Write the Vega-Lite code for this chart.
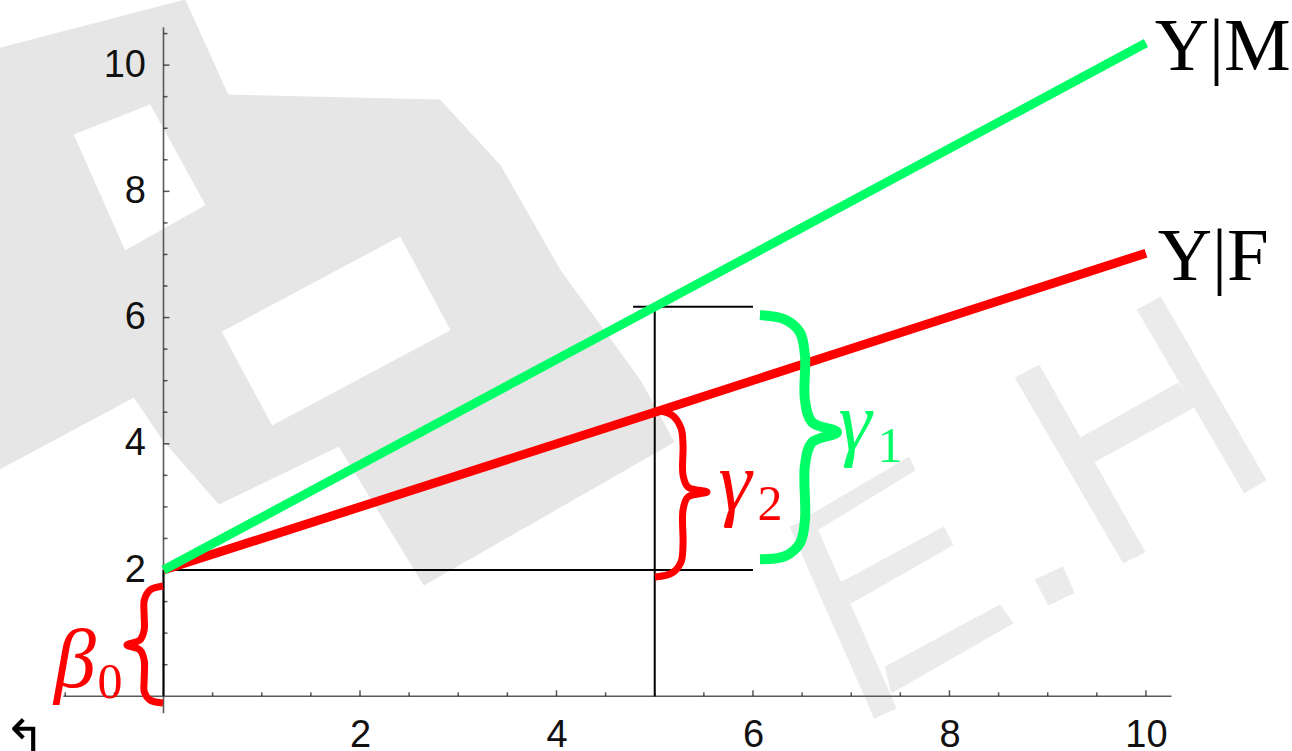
{
  "$schema": "https://vega.github.io/schema/vega-lite/v6.json",
  "width": 1008,
  "height": 669,
  "autosize": "none",
  "padding": {"left": 163.5, "top": 27.25, "right": 120.5, "bottom": 54.75},
  "background": "white",
  "config": {"view": {"stroke": null}},
  "datasets": {
    "backdrop": [
      {"s": "B", "i": 1, "x": -1.664, "y": 10.269}, {"s": "B", "i": 2, "x": 0.219, "y": 11.03},
      {"s": "B", "i": 3, "x": 0.656, "y": 9.525}, {"s": "B", "i": 4, "x": 2.814, "y": 9.446},
      {"s": "B", "i": 5, "x": 3.425, "y": 8.416}, {"s": "B", "i": 6, "x": 4.036, "y": 6.753},
      {"s": "B", "i": 7, "x": 4.85, "y": 5.01}, {"s": "B", "i": 8, "x": 5.196, "y": 4.028},
      {"s": "B", "i": 9, "x": 2.651, "y": 1.763}, {"s": "B", "i": 10, "x": 1.786, "y": 3.964},
      {"s": "B", "i": 11, "x": 0.565, "y": 3.046}, {"s": "B", "i": 12, "x": -0.005, "y": 4.059},
      {"s": "B", "i": 13, "x": -0.3, "y": 4.74}, {"s": "B", "i": 14, "x": -1.664, "y": 3.604}
    ],
    "holes": [
      {"s": "W1", "i": 1, "x": -0.911, "y": 8.894}, {"s": "W1", "i": 2, "x": -0.137, "y": 9.369},
      {"s": "W1", "i": 3, "x": 0.422, "y": 7.784}, {"s": "W1", "i": 4, "x": -0.392, "y": 7.071},
      {"s": "W2", "i": 1, "x": 0.595, "y": 5.77}, {"s": "W2", "i": 2, "x": 2.407, "y": 7.275},
      {"s": "W2", "i": 3, "x": 2.916, "y": 5.802}, {"s": "W2", "i": 4, "x": 1.104, "y": 4.297}
    ],
    "watermark": [
      {"s": "E1", "i": 1, "x": 6.376, "y": 2.679}, {"s": "E1", "i": 2, "x": 6.6, "y": 2.837},
      {"s": "E1", "i": 3, "x": 7.456, "y": -0.19}, {"s": "E1", "i": 4, "x": 7.232, "y": -0.349},
      {"s": "E2", "i": 1, "x": 6.549, "y": 2.837}, {"s": "E2", "i": 2, "x": 7.588, "y": 3.787},
      {"s": "E2", "i": 3, "x": 7.649, "y": 3.581}, {"s": "E2", "i": 4, "x": 6.6, "y": 2.583},
      {"s": "E3", "i": 1, "x": 6.886, "y": 1.794}, {"s": "E3", "i": 2, "x": 7.944, "y": 2.681},
      {"s": "E3", "i": 3, "x": 8.035, "y": 2.397}, {"s": "E3", "i": 4, "x": 6.998, "y": 1.477},
      {"s": "E4", "i": 1, "x": 7.344, "y": 0.463}, {"s": "E4", "i": 2, "x": 8.514, "y": 1.445},
      {"s": "E4", "i": 3, "x": 8.646, "y": 1.16}, {"s": "E4", "i": 4, "x": 7.405, "y": 0.051},
      {"s": "D", "i": 1, "x": 8.87, "y": 1.842}, {"s": "D", "i": 2, "x": 9.155, "y": 2.048},
      {"s": "D", "i": 3, "x": 9.267, "y": 1.636}, {"s": "D", "i": 4, "x": 9.003, "y": 1.446},
      {"s": "H1", "i": 1, "x": 8.667, "y": 5.041}, {"s": "H1", "i": 2, "x": 8.912, "y": 5.247},
      {"s": "H1", "i": 3, "x": 9.99, "y": 2.285}, {"s": "H1", "i": 4, "x": 9.766, "y": 2.111},
      {"s": "H2", "i": 1, "x": 9.908, "y": 6.119}, {"s": "H2", "i": 2, "x": 10.148, "y": 6.325},
      {"s": "H2", "i": 3, "x": 11.221, "y": 3.426}, {"s": "H2", "i": 4, "x": 10.997, "y": 3.22},
      {"s": "H3", "i": 1, "x": 9.298, "y": 4.059}, {"s": "H3", "i": 2, "x": 10.326, "y": 4.962},
      {"s": "H3", "i": 3, "x": 10.489, "y": 4.582}, {"s": "H3", "i": 4, "x": 9.471, "y": 3.711}
    ],
    "axes": [
      {"x": -1.02, "x2": 10.26, "y": 0, "y2": 0},
      {"x": 0, "x2": 0, "y": -0.27, "y2": 10.6}
    ],
    "xticks": [
      {"v": -1}, {"v": -0.5}, {"v": 0.5}, {"v": 1}, {"v": 1.5}, {"v": 2}, {"v": 2.5}, {"v": 3}, {"v": 3.5}, {"v": 4},
      {"v": 4.5}, {"v": 5}, {"v": 5.5}, {"v": 6}, {"v": 6.5}, {"v": 7}, {"v": 7.5}, {"v": 8}, {"v": 8.5}, {"v": 9},
      {"v": 9.5}, {"v": 10}
    ],
    "yticks": [
      {"v": 0.5}, {"v": 1}, {"v": 1.5}, {"v": 2}, {"v": 2.5}, {"v": 3}, {"v": 3.5}, {"v": 4}, {"v": 4.5}, {"v": 5},
      {"v": 5.5}, {"v": 6}, {"v": 6.5}, {"v": 7}, {"v": 7.5}, {"v": 8}, {"v": 8.5}, {"v": 9}, {"v": 9.5}, {"v": 10},
      {"v": 10.5}
    ],
    "guides": [
      {"x": 0, "x2": 6, "y": 2, "y2": 2},
      {"x": 5, "x2": 5, "y": 0, "y2": 6.17},
      {"x": 4.78, "x2": 6, "y": 6.17, "y2": 6.17},
      {"x": 0, "x2": 0, "y": 0, "y2": 2}
    ],
    "lines": [
      {"g": "F", "x": 0, "y": 2},
      {"g": "F", "x": 5, "y": 4.5},
      {"g": "F", "x": 10, "y": 7.02},
      {"g": "M", "x": 0, "y": 2},
      {"g": "M", "x": 5, "y": 6.17},
      {"g": "M", "x": 10, "y": 10.35}
    ],
    "braces": [
      {"b": "b0", "g": "F", "i": 1, "x": -0.005, "y": 1.747},
      {"b": "b0", "g": "F", "i": 2, "x": -0.137, "y": 1.683},
      {"b": "b0", "g": "F", "i": 3, "x": -0.195, "y": 1.525},
      {"b": "b0", "g": "F", "i": 4, "x": -0.197, "y": 1.287},
      {"b": "b0", "g": "F", "i": 5, "x": -0.197, "y": 1.05},
      {"b": "b0", "g": "F", "i": 6, "x": -0.24, "y": 0.891},
      {"b": "b0", "g": "F", "i": 7, "x": -0.372, "y": 0.812},
      {"b": "b0", "g": "F", "i": 8, "x": -0.24, "y": 0.733},
      {"b": "b0", "g": "F", "i": 9, "x": -0.197, "y": 0.574},
      {"b": "b0", "g": "F", "i": 10, "x": -0.197, "y": 0.257},
      {"b": "b0", "g": "F", "i": 11, "x": -0.195, "y": 0.067},
      {"b": "b0", "g": "F", "i": 12, "x": -0.137, "y": -0.059},
      {"b": "b0", "g": "F", "i": 13, "x": -0.005, "y": -0.107},
      {"b": "g2", "g": "F", "i": 1, "x": 5.003, "y": 4.532},
      {"b": "g2", "g": "F", "i": 2, "x": 5.176, "y": 4.455},
      {"b": "g2", "g": "F", "i": 3, "x": 5.267, "y": 4.249},
      {"b": "g2", "g": "F", "i": 4, "x": 5.288, "y": 3.98},
      {"b": "g2", "g": "F", "i": 5, "x": 5.288, "y": 3.505},
      {"b": "g2", "g": "F", "i": 6, "x": 5.338, "y": 3.315},
      {"b": "g2", "g": "F", "i": 7, "x": 5.532, "y": 3.236},
      {"b": "g2", "g": "F", "i": 8, "x": 5.338, "y": 3.157},
      {"b": "g2", "g": "F", "i": 9, "x": 5.288, "y": 2.951},
      {"b": "g2", "g": "F", "i": 10, "x": 5.288, "y": 2.396},
      {"b": "g2", "g": "F", "i": 11, "x": 5.267, "y": 2.127},
      {"b": "g2", "g": "F", "i": 12, "x": 5.176, "y": 1.953},
      {"b": "g2", "g": "F", "i": 13, "x": 5.003, "y": 1.89},
      {"b": "g1", "g": "M", "i": 1, "x": 6.071, "y": 6.04},
      {"b": "g1", "g": "M", "i": 2, "x": 6.326, "y": 5.97},
      {"b": "g1", "g": "M", "i": 3, "x": 6.478, "y": 5.766},
      {"b": "g1", "g": "M", "i": 4, "x": 6.529, "y": 5.402},
      {"b": "g1", "g": "M", "i": 5, "x": 6.529, "y": 4.689},
      {"b": "g1", "g": "M", "i": 6, "x": 6.601, "y": 4.341},
      {"b": "g1", "g": "M", "i": 7, "x": 6.855, "y": 4.182},
      {"b": "g1", "g": "M", "i": 8, "x": 6.601, "y": 4.024},
      {"b": "g1", "g": "M", "i": 9, "x": 6.529, "y": 3.659},
      {"b": "g1", "g": "M", "i": 10, "x": 6.529, "y": 2.788},
      {"b": "g1", "g": "M", "i": 11, "x": 6.478, "y": 2.424},
      {"b": "g1", "g": "M", "i": 12, "x": 6.326, "y": 2.22},
      {"b": "g1", "g": "M", "i": 13, "x": 6.071, "y": 2.17}
    ],
    "greek": [
      {"t": "β", "g": "F", "x": -0.901, "y": 0.15},
      {"t": "γ", "g": "F", "x": 5.817, "y": 2.95},
      {"t": "γ", "g": "M", "x": 7.038, "y": 3.901}
    ],
    "subscripts": [
      {"t": "0", "g": "F", "x": -0.545, "y": -0.028},
      {"t": "2", "g": "F", "x": 6.173, "y": 2.792},
      {"t": "1", "g": "M", "x": 7.394, "y": 3.711}
    ],
    "names": [
      {"t": "Y|M", "x": 10.09, "y": 9.92},
      {"t": "Y|F", "x": 10.12, "y": 6.59}
    ],
    "corner": [
      {"t": "↰", "x": -1.41, "y": -0.93}
    ]
  },
  "layer": [
    {
      "data": {"name": "backdrop"},
      "mark": {"type": "line", "fill": "#e6e6e6", "stroke": "#e6e6e6", "strokeWidth": 1},
      "encoding": {
        "x": {"field": "x", "type": "quantitative", "scale": {"domain": [0, 10.26], "nice": false, "zero": false}},
        "y": {"field": "y", "type": "quantitative", "scale": {"domain": [0, 10.6], "nice": false, "zero": false}},
        "detail": {"field": "s"},
        "order": {"field": "i", "type": "quantitative"}
      }
    },
    {
      "data": {"name": "holes"},
      "mark": {"type": "line", "fill": "white", "stroke": "white", "strokeWidth": 1},
      "encoding": {
        "x": {"field": "x", "type": "quantitative"},
        "y": {"field": "y", "type": "quantitative"},
        "detail": {"field": "s"},
        "order": {"field": "i", "type": "quantitative"}
      }
    },
    {
      "data": {"name": "watermark"},
      "mark": {"type": "line", "fill": "#ebebeb", "stroke": "#ebebeb", "strokeWidth": 1},
      "encoding": {
        "x": {"field": "x", "type": "quantitative"},
        "y": {"field": "y", "type": "quantitative"},
        "detail": {"field": "s"},
        "order": {"field": "i", "type": "quantitative"}
      }
    },
    {
      "data": {"name": "axes"},
      "mark": {"type": "rule", "color": "#5a5a5a", "strokeWidth": 1.6},
      "encoding": {
        "x": {
          "field": "x", "type": "quantitative",
          "axis": {
            "values": [2, 4, 6, 8, 10], "format": "d", "zindex": 1,
            "domain": false, "grid": false, "ticks": false, "tickSize": 0, "title": null,
            "labelFont": "Liberation Sans", "labelFontSize": 38, "labelColor": "#111111",
            "labelPadding": 20, "labelBaseline": "top", "labelOverlap": false, "labelFlush": false
          }
        },
        "x2": {"field": "x2"},
        "y": {
          "field": "y", "type": "quantitative",
          "axis": {
            "values": [2, 4, 6, 8, 10], "format": "d", "zindex": 1,
            "domain": false, "grid": false, "ticks": false, "tickSize": 0, "title": null,
            "labelFont": "Liberation Sans", "labelFontSize": 38, "labelColor": "#111111",
            "labelPadding": 18, "labelOverlap": false, "labelFlush": false
          }
        },
        "y2": {"field": "y2"}
      }
    },
    {
      "data": {"name": "xticks"},
      "transform": [{"filter": "datum.v % 2 === 0"}],
      "mark": {"type": "tick", "orient": "vertical", "size": 6, "thickness": 1.5, "yOffset": -3, "color": "#111111"},
      "encoding": {
        "x": {"field": "v", "type": "quantitative"},
        "y": {"datum": 0, "type": "quantitative"}
      }
    },
    {
      "data": {"name": "xticks"},
      "transform": [{"filter": "datum.v % 2 !== 0"}],
      "mark": {"type": "tick", "orient": "vertical", "size": 4, "thickness": 1.5, "yOffset": -2, "color": "#111111"},
      "encoding": {
        "x": {"field": "v", "type": "quantitative"},
        "y": {"datum": 0, "type": "quantitative"}
      }
    },
    {
      "data": {"name": "yticks"},
      "transform": [{"filter": "datum.v % 2 === 0"}],
      "mark": {"type": "tick", "orient": "horizontal", "size": 6, "thickness": 1.5, "xOffset": 3, "color": "#111111"},
      "encoding": {
        "y": {"field": "v", "type": "quantitative"},
        "x": {"datum": 0, "type": "quantitative"}
      }
    },
    {
      "data": {"name": "yticks"},
      "transform": [{"filter": "datum.v % 2 !== 0"}],
      "mark": {"type": "tick", "orient": "horizontal", "size": 4, "thickness": 1.5, "xOffset": 2, "color": "#111111"},
      "encoding": {
        "y": {"field": "v", "type": "quantitative"},
        "x": {"datum": 0, "type": "quantitative"}
      }
    },
    {
      "data": {"name": "guides"},
      "mark": {"type": "rule", "color": "black", "strokeWidth": 2},
      "encoding": {
        "x": {"field": "x", "type": "quantitative"},
        "x2": {"field": "x2"},
        "y": {"field": "y", "type": "quantitative"},
        "y2": {"field": "y2"}
      }
    },
    {
      "data": {"name": "lines"},
      "mark": {"type": "line", "strokeWidth": 9, "strokeCap": "butt"},
      "encoding": {
        "x": {"field": "x", "type": "quantitative"},
        "y": {"field": "y", "type": "quantitative"},
        "color": {"field": "g", "type": "nominal", "scale": {"domain": ["M", "F"], "range": ["#00ff66", "#ff0000"]}, "legend": null},
        "order": {"field": "x", "type": "quantitative"}
      }
    },
    {
      "data": {"name": "braces"},
      "transform": [{"filter": "datum.g === 'F'"}],
      "mark": {"type": "line", "strokeWidth": 7, "interpolate": "catmull-rom", "strokeCap": "butt"},
      "encoding": {
        "x": {"field": "x", "type": "quantitative"},
        "y": {"field": "y", "type": "quantitative"},
        "detail": {"field": "b"},
        "order": {"field": "i", "type": "quantitative"},
        "color": {"field": "g", "type": "nominal", "legend": null}
      }
    },
    {
      "data": {"name": "braces"},
      "transform": [{"filter": "datum.g === 'M'"}],
      "mark": {"type": "line", "strokeWidth": 10, "interpolate": "catmull-rom", "strokeCap": "butt"},
      "encoding": {
        "x": {"field": "x", "type": "quantitative"},
        "y": {"field": "y", "type": "quantitative"},
        "detail": {"field": "b"},
        "order": {"field": "i", "type": "quantitative"},
        "color": {"field": "g", "type": "nominal", "legend": null}
      }
    },
    {
      "data": {"name": "greek"},
      "mark": {"type": "text", "font": "Liberation Serif, DejaVu Serif, serif", "fontStyle": "italic", "fontSize": 84, "align": "center", "baseline": "alphabetic"},
      "encoding": {
        "x": {"field": "x", "type": "quantitative"},
        "y": {"field": "y", "type": "quantitative"},
        "text": {"field": "t"},
        "color": {"field": "g", "type": "nominal", "legend": null}
      }
    },
    {
      "data": {"name": "subscripts"},
      "mark": {"type": "text", "font": "Liberation Serif, DejaVu Serif, serif", "fontSize": 50, "align": "center", "baseline": "alphabetic"},
      "encoding": {
        "x": {"field": "x", "type": "quantitative"},
        "y": {"field": "y", "type": "quantitative"},
        "text": {"field": "t"},
        "color": {"field": "g", "type": "nominal", "legend": null}
      }
    },
    {
      "data": {"name": "names"},
      "mark": {"type": "text", "font": "Liberation Serif", "fontSize": 75, "align": "left", "baseline": "alphabetic", "color": "black"},
      "encoding": {
        "x": {"field": "x", "type": "quantitative"},
        "y": {"field": "y", "type": "quantitative"},
        "text": {"field": "t"}
      }
    },
    {
      "data": {"name": "corner"},
      "mark": {"type": "text", "font": "DejaVu Sans", "fontSize": 50, "align": "center", "baseline": "alphabetic", "color": "black"},
      "encoding": {
        "x": {"field": "x", "type": "quantitative"},
        "y": {"field": "y", "type": "quantitative"},
        "text": {"field": "t"}
      }
    }
  ]
}
